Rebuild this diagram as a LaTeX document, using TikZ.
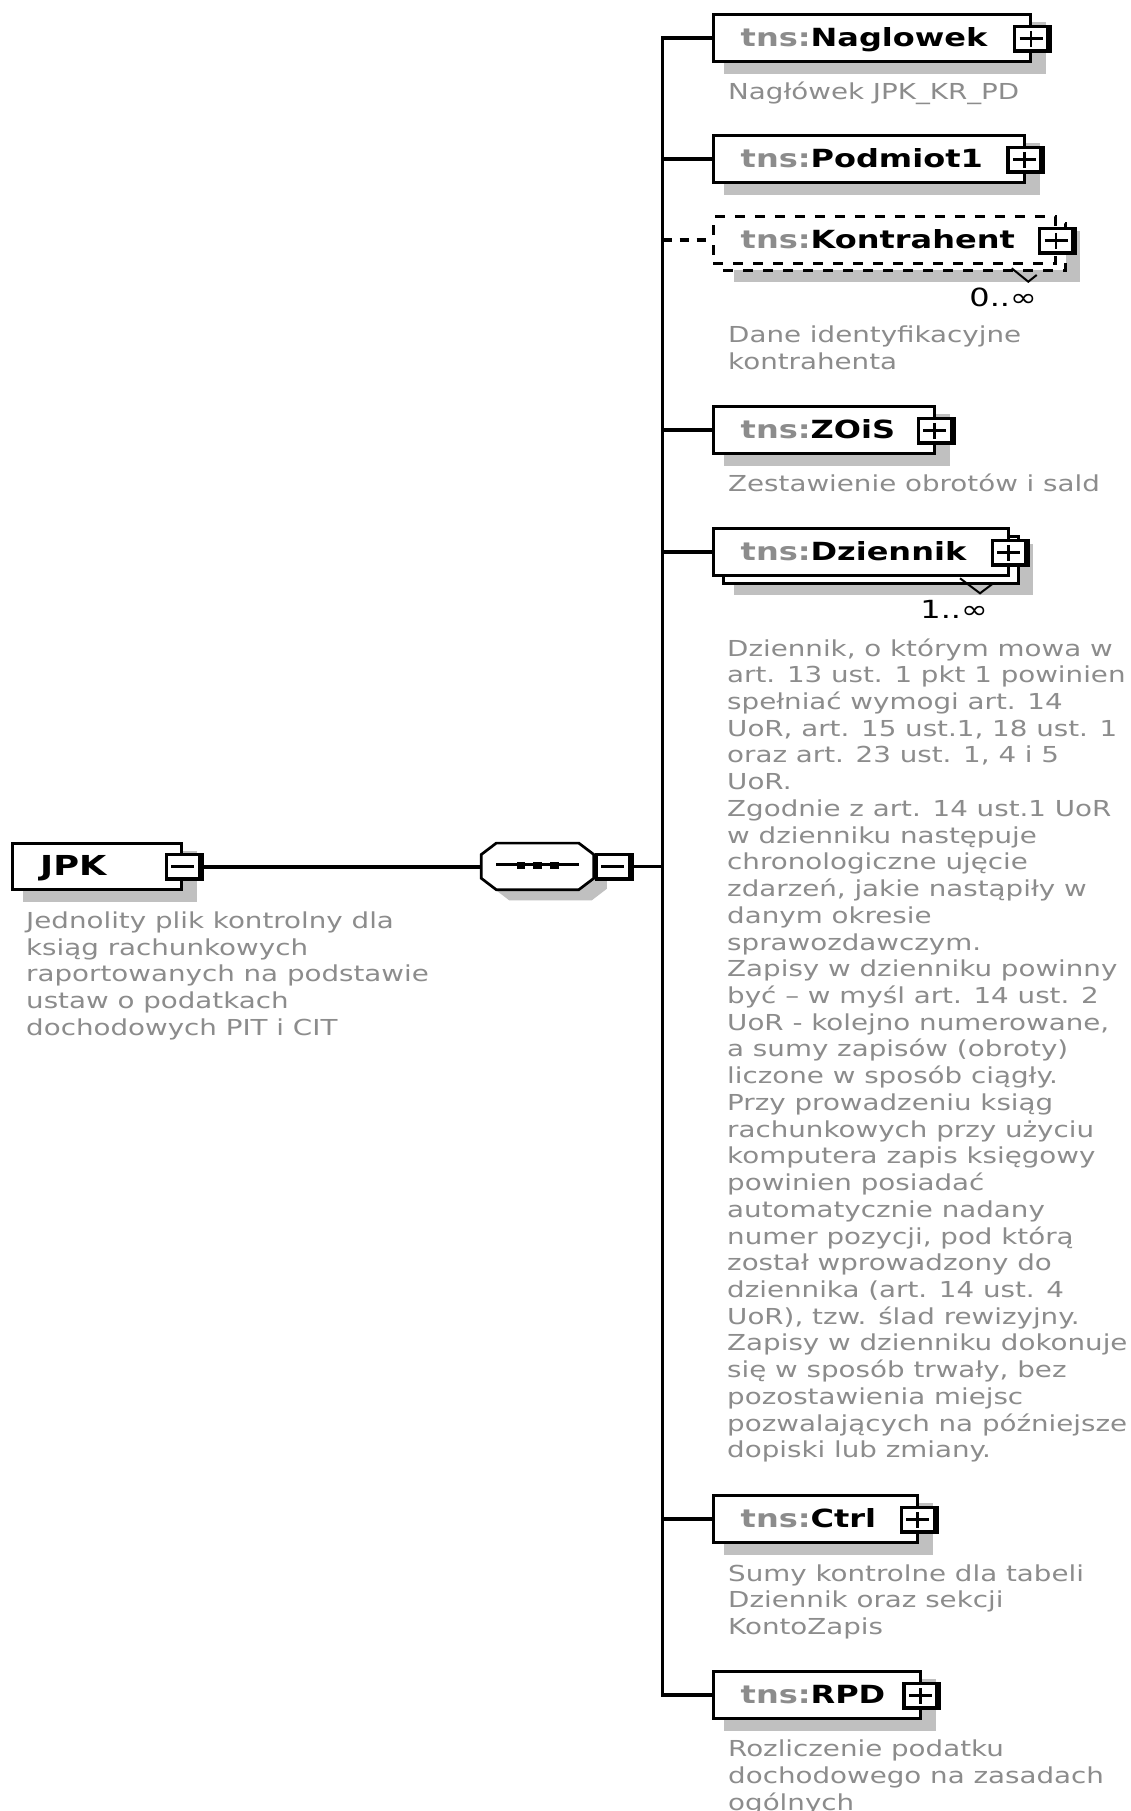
\documentclass[tikz,border=0pt]{standalone}
\usepackage{fontspec}
\newfontfamily\descfont[FakeStretch=1.26]{DejaVu Sans}
\newfontfamily\ttlfont[FakeStretch=1.28]{DejaVu Sans}
\definecolor{descgray}{RGB}{140,140,140}
\definecolor{shadowgray}{RGB}{192,192,192}
\newcommand\pfx{{\color{descgray}tns:}}
\newcommand\dl[1]{\hbox{#1}}
\newcommand\btn[4]{%
  \node[btnn] (#1) at (#2,#3) {};
  \begin{scope}[shift={(#1.center)}]
    \fill[black] (-19.5,-14.25) rectangle (19.5,14.25);
    \fill[white] (-16.2,-10.95) rectangle (13.5,10.25);
    \draw[line width=2.5pt] (-12.8,-0.35) -- (10.2,-0.35);
    \ifx p#4\draw[line width=2.5pt] (-1.3,-8.2) -- (-1.3,7.8);\fi
  \end{scope}}
\tikzset{
  conn/.style={line width=3.1pt},
  elbox/.style={draw, fill=white, line width=3.1pt, inner sep=0pt, outer sep=0pt, minimum height=46.4pt},
  dashbox/.style={elbox, dash pattern=on 10pt off 10pt},
  shadowfill/.style={fill=shadowgray},
  btnn/.style={inner sep=0pt, outer sep=0pt, minimum width=39pt, minimum height=28.5pt},
  ttl/.style={anchor=base west, inner sep=0pt, font=\ttlfont\fontsize{25}{30}\selectfont\bfseries},
  desc/.style={anchor=base west, inner sep=0pt, text=descgray, font=\descfont\fontsize{22}{26.73}\selectfont},
  mult/.style={anchor=base east, inner sep=0pt, font=\ttlfont\fontsize{25}{30}\selectfont},
  vmark/.style={line width=2pt},
}
\begin{document}
\begin{tikzpicture}[x=1pt,y=-1pt]
\useasboundingbox (0,0) rectangle (1131,1811);
\clip (0,0) rectangle (1131,1811);
\fill[white] (0,0) rectangle (1131,1811);

% ---------- named anchors for the connectors
\node[inner sep=0pt, outer sep=0pt, minimum width=115pt, minimum height=49.3pt] (comp) at (537.5,866.5) {};
\coordinate (bus) at (662.5,866.5);

% ---------- JPK root element
\fill[shadowfill] (22.7,851) rectangle (196.7,901.7);
\node[elbox, minimum width=168.9pt, minimum height=46.2pt] (jpk) at (97,866.5) {};
\btn{jpkb}{184.2}{867}{m}
\node[ttl, font=\ttlfont\fontsize{27.5}{32}\selectfont\bfseries] (tjpk) at (40,875) {JPK};
\node[desc] (djpk) at (26,928.3) {\vtop{\dl{Jednolity plik kontrolny dla}\dl{ksiąg rachunkowych}\dl{raportowanych na podstawie}\dl{ustaw o podatkach}\dl{dochodowych PIT i CIT}}};

% ---------- sequence compositor
\fill[shadowfill] (494.2,865) -- (509.2,853.5) -- (591.8,853.5) -- (606.8,865) -- (606.8,888.8) -- (591.8,900.3) -- (509.2,900.3) -- (494.2,888.8) -- cycle;
\draw[line width=2.7pt, fill=white] (481.3,854.5) -- (496.3,843.1) -- (578.8,843.1) -- (593.8,854.5) -- (593.8,878.3) -- (578.8,889.7) -- (496.3,889.7) -- (481.3,878.3) -- cycle;
\draw[line width=2.4pt] (496,864.5) -- (579,864.5);
\fill (516.7,861.5) rectangle (525,869);
\fill (533.3,861.5) rectangle (541.7,869);
\fill (550,861.5) rectangle (558.5,869);
\btn{compb}{614.2}{866.8}{m}

% ---------- connectors
\draw[conn] (jpkb.east) -- (comp.west |- jpkb.east);
\draw[conn] (compb.east) -- (bus |- compb.east);

% ---------- Naglowek
\fill[shadowfill] (723.7,22.25) rectangle (1046.3,73.75);
\node[elbox, minimum width=317.5pt] (nag) at (872,38) {};
\btn{nagb}{1032.3}{39}{p}
\node[ttl] (tnag) at (740.5,46.7) {\pfx Naglowek};
\node[desc] (dnag) at (728,100) {Nagłówek JPK\_KR\_PD};

% ---------- Podmiot1
\fill[shadowfill] (723.7,143.25) rectangle (1039.7,194.75);
\node[elbox, minimum width=310.9pt] (pod) at (868.7,159) {};
\btn{podb}{1025.7}{160}{p}
\node[ttl] (tpod) at (740.5,167.7) {\pfx Podmiot1};

% ---------- Kontrahent (optional, repeating)
\fill[shadowfill] (733.7,231.25) rectangle (1080.3,281.75);
\node[dashbox, minimum width=342.5pt] (konback) at (894.5,247) {};
\node[dashbox, minimum width=342.5pt] (kon) at (884.5,240) {};
\draw[vmark] (1011.7,268.3) -- (1028.3,281.7) -- (1036.7,275);
\btn{konb}{1057.3}{241}{p}
\node[ttl] (tkon) at (740.5,248.7) {\pfx Kontrahent};
\node[mult] (mkon) at (1037,306.7) {0..∞};
\node[desc] (dkon) at (728,342.7) {\vtop{\dl{Dane identyfikacyjne}\dl{kontrahenta}}};

% ---------- ZOiS
\fill[shadowfill] (723.7,414.25) rectangle (950,465.75);
\node[elbox, minimum width=221.2pt] (zois) at (823.85,430) {};
\btn{zoisb}{936}{431}{p}
\node[ttl] (tzois) at (740.5,438.7) {\pfx ZOiS};
\node[desc] (dzois) at (728,491) {Zestawienie obrotów i sald};

% ---------- Dziennik (repeating)
\fill[shadowfill] (733.7,544.25) rectangle (1033,594.75);
\node[elbox, minimum width=295.2pt] (dzback) at (870.85,560) {};
\node[elbox, minimum width=295.2pt] (dz) at (860.85,552) {};
\draw[vmark] (960,578.3) -- (980,593.3) -- (993.3,583.3);
\btn{dzb}{1010}{553}{p}
\node[ttl] (tdz) at (740.5,560.7) {\pfx Dziennik};
\node[mult] (mdz) at (988,618) {1..∞};
\node[desc] (ddz) at (727,656) {\vtop{%
\dl{Dziennik, o którym mowa w}%
\dl{art. 13 ust. 1 pkt 1 powinien}%
\dl{spełniać wymogi art. 14}%
\dl{UoR, art. 15 ust.1, 18 ust. 1}%
\dl{oraz art. 23 ust. 1, 4 i 5}%
\dl{UoR.}%
\dl{Zgodnie z art. 14 ust.1 UoR}%
\dl{w dzienniku następuje}%
\dl{chronologiczne ujęcie}%
\dl{zdarzeń, jakie nastąpiły w}%
\dl{danym okresie}%
\dl{sprawozdawczym.}%
\dl{Zapisy w dzienniku powinny}%
\dl{być – w myśl art. 14 ust. 2}%
\dl{UoR - kolejno numerowane,}%
\dl{a sumy zapisów (obroty)}%
\dl{liczone w sposób ciągły.}%
\dl{Przy prowadzeniu ksiąg}%
\dl{rachunkowych przy użyciu}%
\dl{komputera zapis księgowy}%
\dl{powinien posiadać}%
\dl{automatycznie nadany}%
\dl{numer pozycji, pod którą}%
\dl{został wprowadzony do}%
\dl{dziennika (art. 14 ust. 4}%
\dl{UoR), tzw. ślad rewizyjny.}%
\dl{Zapisy w dzienniku dokonuje}%
\dl{się w sposób trwały, bez}%
\dl{pozostawienia miejsc}%
\dl{pozwalających na późniejsze}%
\dl{dopiski lub zmiany.}}};

% ---------- Ctrl
\fill[shadowfill] (723.7,1503.25) rectangle (933,1554.75);
\node[elbox, minimum width=204.2pt] (ctrl) at (815.35,1519) {};
\btn{ctrlb}{919}{1520}{p}
\node[ttl] (tctrl) at (740.5,1527.7) {\pfx Ctrl};
\node[desc] (dctrl) at (728,1581) {\vtop{\dl{Sumy kontrolne dla tabeli}\dl{Dziennik oraz sekcji}\dl{KontoZapis}}};

% ---------- RPD
\fill[shadowfill] (723.7,1679.25) rectangle (935.7,1730.75);
\node[elbox, minimum width=206.9pt] (rpd) at (816.7,1695) {};
\btn{rpdb}{921.7}{1696}{p}
\node[ttl] (trpd) at (740.5,1703.7) {\pfx RPD};
\node[desc] (drpd) at (728,1756.7) {\vtop{\dl{Rozliczenie podatku}\dl{dochodowego na zasadach}\dl{ogólnych}}};

% ---------- bus and branches
\draw[conn] (nag.west) -- (nag.west -| bus) -- (rpd.west -| bus) -- (rpd.west);
\draw[conn] (pod.west -| bus) -- (pod.west);
\draw[conn, dash pattern=on 9pt off 8pt] (kon.west -| bus) -- (kon.west);
\draw[conn] (zois.west -| bus) -- (zois.west);
\draw[conn] (dz.west -| bus) -- (dz.west);
\draw[conn] (ctrl.west -| bus) -- (ctrl.west);
\end{tikzpicture}
\end{document}
